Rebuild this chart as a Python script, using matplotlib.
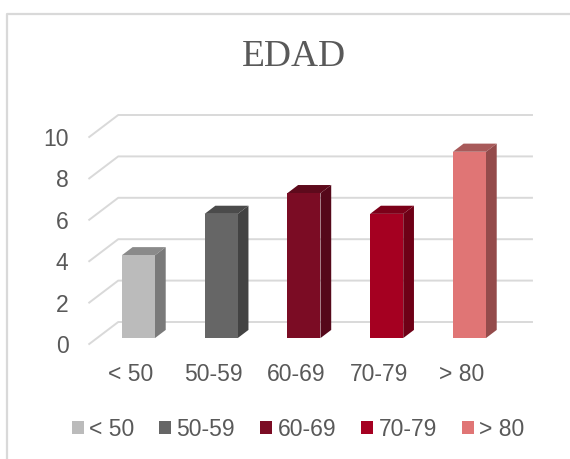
import matplotlib.pyplot as plt
from matplotlib.patches import Polygon, Patch
from matplotlib.lines import Line2D

plt.rcParams["font.family"] = ["Liberation Sans", "DejaVu Sans"]

# age groups and counts
categories = ["< 50", "50-59", "60-69", "70-79", "> 80"]
values = [4, 6, 7, 6, 9]
front_colors = ["#BBBBBB", "#666666", "#7B0C24", "#A50021", "#E07575"]
side_colors = ["#7A7A7A", "#434343", "#55081A", "#6E0016", "#944B4B"]
top_colors = ["#8A8A8A", "#4B4B4B", "#5E0A1C", "#7C0019", "#A85A5A"]
yticks = [0, 2, 4, 6, 8, 10]

W, H = 570, 459
fig = plt.figure(figsize=(W / 100, H / 100), dpi=100)
txt = "#595959"
grid = "#D9D9D9"
fs = 16.5

# px per unit along x (category) and y (value)
px_x, px_y = 82.75, 20.7
x0_px, y0_px = 130.6, 344  # category 0 / value 0 on the front edge
left_px, right_px, top_px = 88, 560, 100
ax = fig.add_axes([left_px / W, 1 - y0_px / H, (right_px - left_px) / W, (y0_px - top_px) / H])
ax.set_xlim((left_px - x0_px) / px_x, (right_px - x0_px) / px_x)
ax.set_ylim(0, (y0_px - top_px) / px_y)
ax.patch.set_alpha(0)
for s in ax.spines.values():
    s.set_visible(False)

# depth direction: full depth of the floor in data units
DX, DY = 29 / px_x, 22 / px_y

def shift(x, y, d):
    return (x + d * DX, y + d * DY)

# wall gridlines: diagonal on the side wall, horizontal on the back wall
for v in yticks:
    a = shift(-0.5, v, 0)
    b = shift(-0.5, v, 1)
    c = shift(4.5, v, 1)
    ax.plot([a[0], b[0], c[0]], [a[1], b[1], c[1]], color=grid, lw=1.4, zorder=1, clip_on=False)

# 3d-ish columns
w = 0.4
d0, d1 = 0.27, 0.64
for i, (v, fc, sc, tc) in enumerate(zip(values, front_colors, side_colors, top_colors)):
    fx, fy = shift(i, 0, d0)
    ax.bar(fx, v, width=w, bottom=fy, color=fc, zorder=3)
    xl, xr = i - w / 2, i + w / 2
    top = [shift(xl, v, d0), shift(xr, v, d0), shift(xr, v, d1), shift(xl, v, d1)]
    side = [shift(xr, 0, d0), shift(xr, v, d0), shift(xr, v, d1), shift(xr, 0, d1)]
    ax.add_patch(Polygon(top, closed=True, facecolor=tc, edgecolor="none", zorder=2))
    ax.add_patch(Polygon(side, closed=True, facecolor=sc, edgecolor="none", zorder=2))

ax.set_yticks(yticks)
ax.set_yticklabels([str(t) for t in yticks], fontsize=fs, color=txt)
ax.set_xticks(range(len(categories)))
ax.set_xticklabels(categories, fontsize=fs, color=txt)
ax.tick_params(axis="y", length=0, pad=14)
ax.tick_params(axis="x", length=0, pad=14)

fig.text(294 / W, 1 - 57 / H, "EDAD", family=["Liberation Serif", "DejaVu Serif"], fontsize=27,
         color=txt, ha="center", va="center")

handles = [Patch(facecolor=c, edgecolor="none") for c in front_colors]
fig.legend(handles, categories, loc="center", bbox_to_anchor=(298 / W, 1 - 429 / H),
           ncol=5, frameon=False, fontsize=fs, labelcolor=txt,
           handlelength=0.53, handleheight=0.53, handletextpad=0.22, columnspacing=1.1)

# chart frame (left and top edges)
fig.add_artist(Line2D([7 / W, 7 / W, 1], [0, 1 - 14 / H, 1 - 14 / H], color=grid, lw=1.6,
                      transform=fig.transFigure))

fig.savefig("out.png", dpi=100)
